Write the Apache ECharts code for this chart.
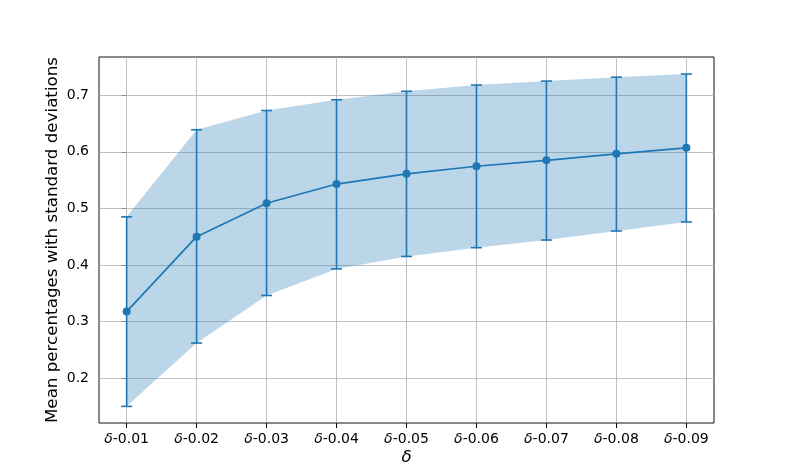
<!DOCTYPE html>
<html><head><meta charset="utf-8">
<script src="https://cdn.jsdelivr.net/npm/echarts@6/dist/echarts.min.js"></script>
<style>html,body{margin:0;padding:0;background:#fff}#c{width:793px;height:476px}</style>
</head><body><div id="c"></div>
<script>
const categories = ['δ-0.01','δ-0.02','δ-0.03','δ-0.04','δ-0.05','δ-0.06','δ-0.07','δ-0.08','δ-0.09'];
const meanValues  = [0.3175,0.450,0.509,0.543,0.561,0.5745,0.585,0.5965,0.607];
const upperValues = [0.485,0.639,0.673,0.692,0.707,0.718,0.725,0.732,0.7375];
const lowerValues = [0.150,0.262,0.346,0.393,0.415,0.4305,0.444,0.460,0.476];
const yTicks = [0.2,0.3,0.4,0.5,0.6,0.7];
const yLabel = 'Mean percentages with standard deviations';
const xLabel = 'δ';

const idx = categories.map((c,i)=>i);
const C = '#1f77b4';
const FONT = 'DejaVu Sans';

const chart = echarts.init(document.getElementById('c'), null, {renderer:'canvas'});
chart.setOption({
  animation:false,
  backgroundColor:'#fff',
  grid:{left:99, right:79, top:57, bottom:53, show:true, borderColor:'#111', borderWidth:1, backgroundColor:'transparent'},
  xAxis:{
    type:'value', min:-0.395, max:8.395,
    axisLine:{show:false},
    splitLine:{show:false},
    axisTick:{show:true, customValues:idx, length:5, lineStyle:{color:'#000', width:1}},
    axisLabel:{customValues:idx, margin:9, color:'#000', fontFamily:FONT, fontSize:14,
      formatter:(v)=>{const s=categories[Math.round(v)]; return '{i|'+s.charAt(0)+'}'+s.slice(1);},
      rich:{i:{fontStyle:'italic', fontFamily:FONT, fontSize:14, color:'#000'}}},
    name:xLabel, nameLocation:'middle', nameGap:26, nameMoveOverlap:false,
    nameTextStyle:{fontFamily:FONT, fontSize:16.7, fontStyle:'italic', color:'#000'}
  },
  yAxis:{
    type:'value', min:0.1206, max:0.7676,
    axisLine:{show:false},
    splitLine:{show:false},
    axisTick:{show:true, customValues:yTicks, length:5, lineStyle:{color:'#000', width:1}},
    axisLabel:{customValues:yTicks, margin:10, color:'#000', fontFamily:FONT, fontSize:14,
      formatter:(v)=>v.toFixed(1)},
    name:yLabel, nameLocation:'middle', nameGap:38, nameRotate:90, nameMoveOverlap:false,
    nameTextStyle:{fontFamily:FONT, fontSize:16.7, color:'#000'}
  },
  series:[
    {
      type:'line', data:[], z:1, silent:true,
      markLine:{silent:true, z:1, symbol:['none','none'], label:{show:false},
        lineStyle:{color:'#b0b0b0', width:0.8, type:'solid'},
        emphasis:{disabled:true},
        data:[...idx.map(i=>({xAxis:i})), ...yTicks.map(v=>({yAxis:v}))]}
    },
    {
      type:'custom', z:2, silent:true,
      data:[[0,0]],
      renderItem:(params, api)=>{
        if(params.dataIndex!==0) return null;
        const pts=[];
        for(let i=0;i<upperValues.length;i++) pts.push(api.coord([i, upperValues[i]]));
        for(let i=lowerValues.length-1;i>=0;i--) pts.push(api.coord([i, lowerValues[i]]));
        return {type:'polygon', shape:{points:pts}, style:{fill:'rgba(31,119,180,0.3)'}};
      }
    },
    {
      type:'custom', z:8, silent:true,
      data: idx.map(i=>[i, lowerValues[i], upperValues[i]]),
      renderItem:(params, api)=>{
        const x=api.value(0);
        const lo=api.coord([x, api.value(1)]);
        const hi=api.coord([x, api.value(2)]);
        const cap=5.5;
        const st={stroke:C, lineWidth:1.6};
        return {type:'group', children:[
          {type:'line', shape:{x1:lo[0], y1:lo[1], x2:hi[0], y2:hi[1]}, style:st},
          {type:'line', shape:{x1:lo[0]-cap, y1:lo[1], x2:lo[0]+cap, y2:lo[1]}, style:st},
          {type:'line', shape:{x1:hi[0]-cap, y1:hi[1], x2:hi[0]+cap, y2:hi[1]}, style:st}
        ]};
      }
    },
    {
      type:'line', z:9, silent:true,
      data: idx.map(i=>[i, meanValues[i]]),
      symbol:'circle', symbolSize:8,
      lineStyle:{color:C, width:1.7},
      itemStyle:{color:C}
    }
  ]
});
</script>
</body></html>
